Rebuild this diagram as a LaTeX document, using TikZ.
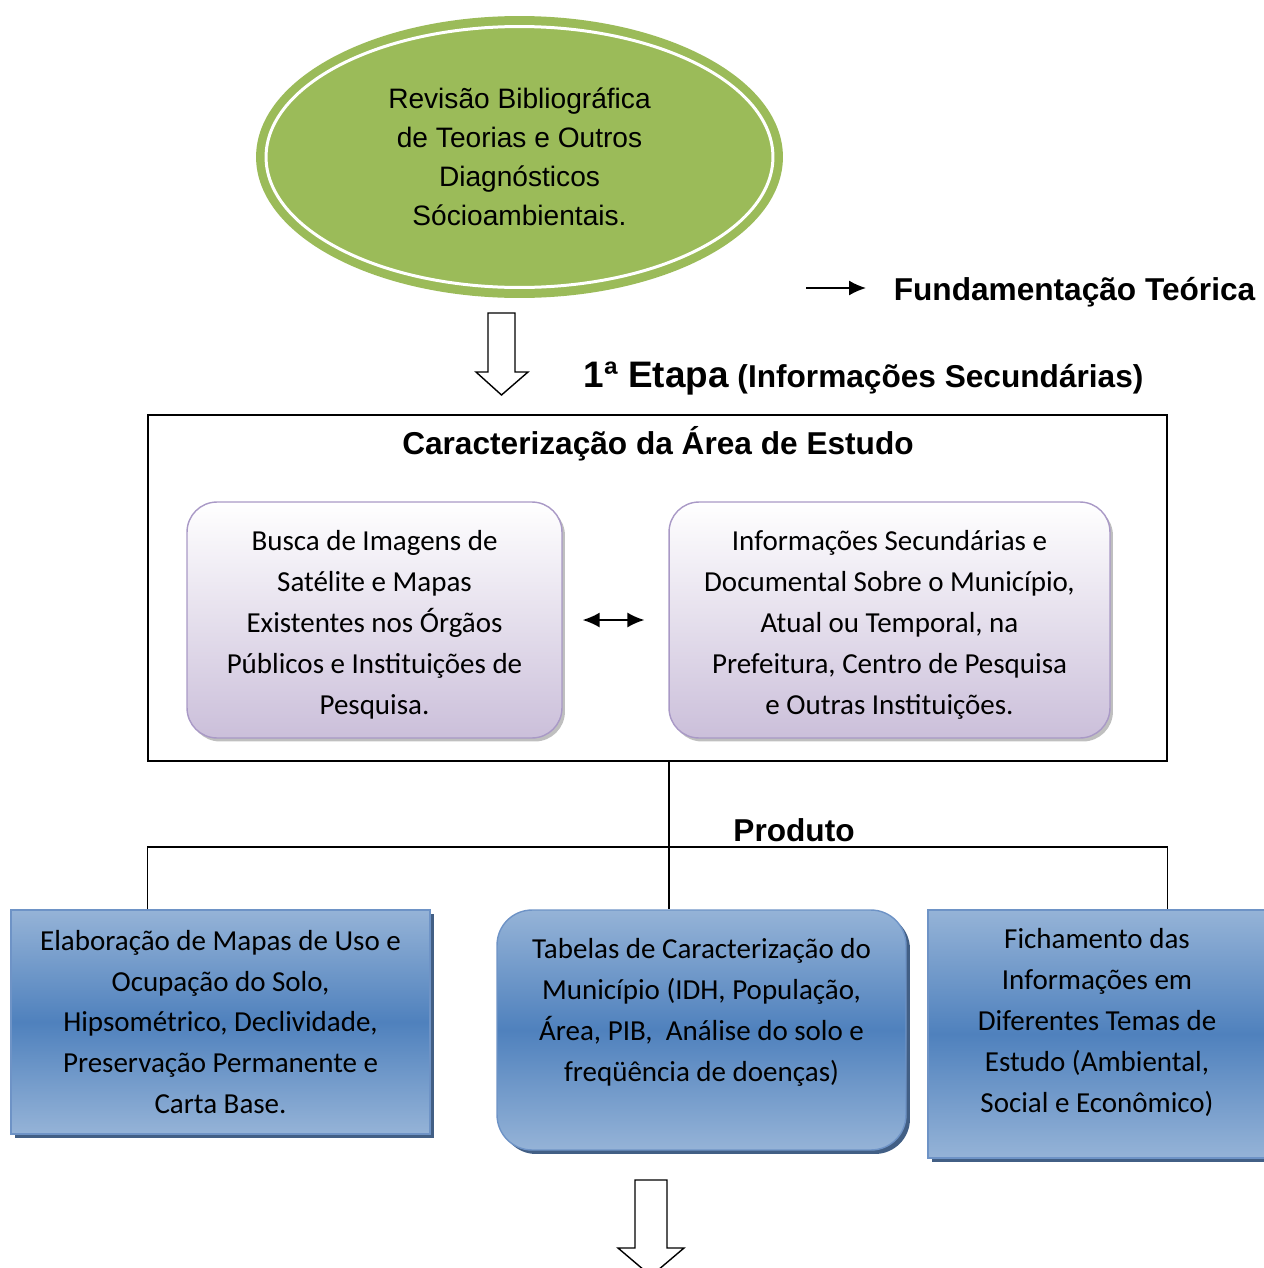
\documentclass[tikz,border=0pt]{standalone}
\usepackage{fontspec}
\newfontfamily\arialfont{Liberation Sans}
\newfontfamily\calfont{Carlito}
\usetikzlibrary{shapes.geometric,shadows,arrows.meta}

\definecolor{revgreen}{HTML}{9BBB59}
\definecolor{lilac}{HTML}{CBBFDA}
\definecolor{lilacline}{HTML}{A999C6}
\definecolor{bluelight}{HTML}{95B3D7}
\definecolor{bluemid}{HTML}{4F81BD}
\definecolor{blueline}{HTML}{6E93C6}
\definecolor{blueshadow}{HTML}{2E4E78}

\begin{document}
\begin{tikzpicture}[x=0.02cm,y=-0.02cm,line width=0.9pt,
    revbubble/.style={ellipse,fill=revgreen,draw=revgreen,line width=0.16cm,minimum width=10.38cm,minimum height=5.48cm,inner sep=0pt,align=center,font=\arialfont\fontsize{16}{22.2}\selectfont},
    lilacbox/.style={rounded corners=0.6cm,draw=lilacline,line width=0.8pt,top color=white,bottom color=lilac,drop shadow={shadow xshift=0.06cm,shadow yshift=-0.07cm,opacity=0.5},minimum height=4.72cm,align=center,font=\calfont\fontsize{16.5}{23.3}\selectfont},
    bluebox/.style={draw=blueline,line width=0.8pt,top color=bluelight,bottom color=bluelight,middle color=bluemid,drop shadow={shadow xshift=0.08cm,shadow yshift=-0.08cm,fill=blueshadow,opacity=0.9},align=center,font=\calfont\fontsize{16.5}{23.3}\selectfont},
    heading/.style={font=\arialfont\bfseries\fontsize{18}{22}\selectfont,inner sep=0pt},
    hollow/.style={draw=black,fill=white,line width=0.8pt,line join=miter},
    headtip/.tip={Latex[length=0.34cm,width=0.3cm]}]
  \useasboundingbox (0,0) rectangle (1264,1268);

  \node[revbubble] (rev) at (519.5,157) {Revisão Bibliográfica\\de Teorias e Outros\\Diagnósticos\\Sócioambientais.};
  \draw[white,line width=0.06cm] (rev.center) ellipse [x radius=5.07cm,y radius=2.61cm];

  \draw[hollow] (488,313) -- (515,313) -- (515,372) -- (528,372) -- (501.5,395) -- (476,372) -- (488,372) -- cycle;

  \node[heading,anchor=west] (fund) at (893,292) {Fundamentação Teórica};
  \coordinate (fundtail) at (806,288);
  \draw[-headtip,shorten >=0.54cm] (fundtail) -- (fundtail -| fund.west);

  \node[heading,anchor=west] (etapa) at (583,379) {{\fontsize{21}{25}\selectfont 1ª Etapa} (Informações Secundárias)};

  \node[draw=black,minimum width=20.38cm,minimum height=6.92cm] (frame) at (657.5,588) {};
  \node[heading] (carac) at (658,444) {Caracterização da Área de Estudo};

  \node[lilacbox,minimum width=7.5cm] (busca) at (374.5,620) {\rule{0pt}{17pt}Busca de Imagens de\\Satélite e Mapas\\Existentes nos Órgãos\\Públicos e Instituições de\\Pesquisa.};
  \node[lilacbox,minimum width=8.82cm] (info) at (889.5,620) {\rule{0pt}{17pt}Informações Secundárias e\\Documental Sobre o Município,\\Atual ou Temporal, na\\Prefeitura, Centro de Pesquisa\\e Outras Instituições.};
  \draw[headtip-headtip,shorten <=0.4cm,shorten >=0.48cm] (busca.east) -- (info.west);

  \node[bluebox,minimum width=8.38cm,minimum height=4.48cm] (elab) at (220.5,1022) {Elaboração de Mapas de Uso e\\Ocupação do Solo,\\Hipsométrico, Declividade,\\Preservação Permanente e\\Carta Base.};
  \node[bluebox,rounded corners=0.7cm,minimum width=8.18cm,minimum height=4.8cm] (tab) at (701.5,1030) {Tabelas de Caracterização do\\Município (IDH, População,\\Área, PIB,~ Análise do solo e\\freqüência de doenças)\\~};
  \node[bluebox,minimum width=6.76cm,minimum height=4.96cm] (fich) at (1097,1034) {Fichamento das\\Informações em\\Diferentes Temas de\\Estudo (Ambiental,\\Social e Econômico)\\[-8pt]\mbox{}};

  \coordinate (split) at (669,847);
  \draw (split |- frame.south) -- (split |- tab.north);
  \draw (frame.west |- elab.north) |- (split) -| (frame.east |- fich.north);
  \node[heading] (produto) at (794,830) {Produto};

  \draw[hollow] (635,1180) -- (667,1180) -- (667,1248) -- (684,1248) -- (651,1276) -- (618,1248) -- (635,1248) -- cycle;
\end{tikzpicture}
\end{document}
